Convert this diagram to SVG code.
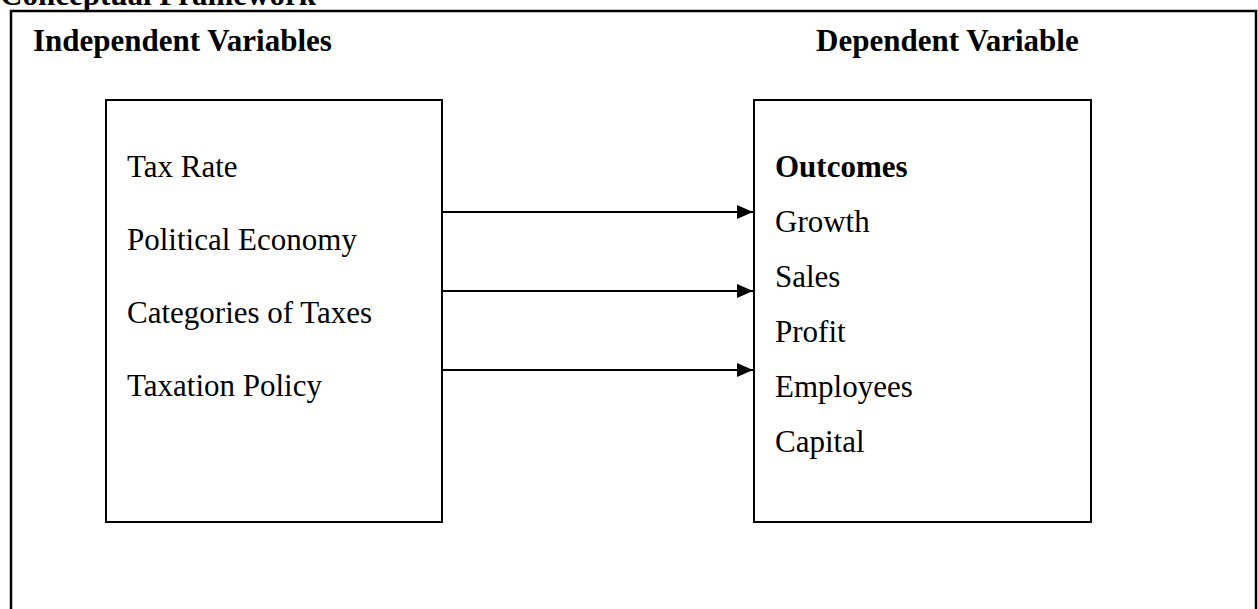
<svg xmlns="http://www.w3.org/2000/svg" width="1258" height="609" viewBox="0 0 1258 609">
  <style>
    .frame { fill: none; stroke: #000; stroke-width: 2.5; }
    .box { fill: #fff; stroke: #000; stroke-width: 2; }
    .title { font-family: "Liberation Serif", "Times New Roman", serif; font-weight: bold; font-size: 31px; fill: #000; }
    .item { font-family: "Liberation Serif", "Times New Roman", serif; font-size: 31px; fill: #000; }
    .bold { font-weight: bold; }
    .conn { stroke: #000; stroke-width: 2; fill: none; }
  </style>
  <defs>
    <marker id="arrow" markerUnits="userSpaceOnUse" markerWidth="16" markerHeight="14" refX="16" refY="7" orient="auto">
      <path d="M0,0 L16,7 L0,14 Z" fill="#000"/>
    </marker>
  </defs>

  <rect width="1258" height="609" fill="#fff"/>

  <!-- page heading and outer frame -->
  <text class="title" x="0" y="5">Conceptual Framework</text>
  <rect class="frame" x="11" y="11" width="1245" height="620"/>

  <text class="title" x="33" y="51">Independent Variables</text>
  <text class="title" x="816" y="51">Dependent Variable</text>

  <!-- independent variables -->
  <g id="independent">
    <rect class="box" x="106" y="100" width="336" height="422"/>
    <text class="item" x="127" y="177">Tax Rate</text>
    <text class="item" x="127" y="250">Political Economy</text>
    <text class="item" x="127" y="323">Categories of Taxes</text>
    <text class="item" x="127" y="396">Taxation Policy</text>
  </g>

  <!-- dependent variable -->
  <g id="dependent">
    <rect class="box" x="754" y="100" width="337" height="422"/>
    <text class="item bold" x="775" y="177">Outcomes</text>
    <text class="item" x="775" y="232">Growth</text>
    <text class="item" x="775" y="287">Sales</text>
    <text class="item" x="775" y="342">Profit</text>
    <text class="item" x="775" y="397">Employees</text>
    <text class="item" x="775" y="452">Capital</text>
  </g>

  <!-- connectors -->
  <g id="connectors">
    <line class="conn" x1="442" y1="212" x2="753" y2="212" marker-end="url(#arrow)"/>
    <line class="conn" x1="442" y1="291" x2="753" y2="291" marker-end="url(#arrow)"/>
    <line class="conn" x1="442" y1="370" x2="753" y2="370" marker-end="url(#arrow)"/>
  </g>
</svg>
